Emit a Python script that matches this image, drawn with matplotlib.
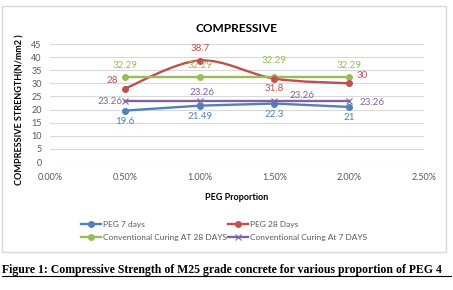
import matplotlib
matplotlib.use("Agg")
import matplotlib.pyplot as plt
from matplotlib.path import Path
from matplotlib.patches import PathPatch, Rectangle
import numpy as np

W, H = 453, 290

# data
peg = [0.005, 0.010, 0.015, 0.020]
peg_7 = [19.6, 21.49, 22.3, 21]
peg_28 = [28, 38.7, 31.8, 30]
conv_28 = [32.29, 32.29, 32.29, 32.29]
conv_7 = [23.26, 23.26, 23.26, 23.26]
x_ticks = [0, 0.005, 0.010, 0.015, 0.020, 0.025]
y_ticks = [0, 5, 10, 15, 20, 25, 30, 35, 40, 45]

blue = "#4F81BD"
red = "#C0504D"
green = "#9BBB59"
purple = "#8064A2"
grey = "#595959"

plt.rcParams['font.family'] = ['Lato', 'DejaVu Sans']

fig = plt.figure(figsize=(W / 100, H / 100), dpi=100)

def px(x0, y0, w, h):  # pixel box (from top-left) -> figure fraction
    return [x0 / W, 1 - (y0 + h) / H, w / W, h / H]

# chart frame
fig.patches.append(Rectangle((2 / W, 1 - 252 / H), 444 / W, 246 / H,
                             transform=fig.transFigure, fill=False,
                             edgecolor="#D9D9D9", linewidth=1))

ax = fig.add_axes(px(50, 44, 374, 118))
ax.set_xlim(0, 0.025)
ax.set_ylim(0, 45)
ax.set_xticks(x_ticks)
ax.set_xticklabels(["%.2f%%" % (v * 100) for v in x_ticks])
ax.set_yticks(y_ticks)
ax.tick_params(length=0, labelsize=6.5, labelcolor=grey, pad=6)
ax.tick_params(axis='x', pad=8)
ax.grid(axis='y', color="#D9D9D9", linewidth=0.8)
ax.set_axisbelow(True)
for s in ax.spines.values():
    s.set_visible(False)

# straight series
h_b, = ax.plot(peg, peg_7, color=blue, lw=1.7, marker='o', ms=4, label="PEG 7 days", zorder=3)

# smoothed red series (Excel-style smoothing through the points)
verts = [(peg[0], peg_28[0])]
codes = [Path.MOVETO]
n = len(peg)
for i in range(n - 1):
    p0 = np.array([peg[max(i - 1, 0)], peg_28[max(i - 1, 0)]])
    p1 = np.array([peg[i], peg_28[i]])
    p2 = np.array([peg[i + 1], peg_28[i + 1]])
    p3 = np.array([peg[min(i + 2, n - 1)], peg_28[min(i + 2, n - 1)]])
    c1 = p1 + (p2 - p0) / 6
    c2 = p2 - (p3 - p1) / 6
    verts += [tuple(c1), tuple(c2), tuple(p2)]
    codes += [Path.CURVE4] * 3
ax.add_patch(PathPatch(Path(verts, codes), fill=False, edgecolor=red, lw=1.7, zorder=3))
ax.plot(peg, peg_28, color=red, lw=0, marker='o', ms=4, zorder=4)
h_r, = ax.plot([], [], color=red, lw=1.7, marker='o', ms=4, label="PEG 28 Days")

h_g, = ax.plot(peg, conv_28, color=green, lw=1.7, marker='o', ms=4,
               label="Conventional Curing AT 28 DAYS", zorder=3)
h_p, = ax.plot(peg, conv_7, color=purple, lw=1.7, marker='x', ms=5, mew=0.8,
               label="Conventional Curing At 7 DAYS", zorder=3)

def lab(x, y, txt, dx, dy, c, ha='center'):
    ax.annotate(txt, (x, y), xytext=(dx, dy), textcoords='offset pixels',
                ha=ha, va='center', fontsize=7, color=c, zorder=5)

for i, v in enumerate(peg_7):
    lab(peg[i], v, "%g" % v, 0, -11, blue)
red_off = [(-13, 8), (1, 12), (0, -10), (13, 8)]
for i, v in enumerate(peg_28):
    lab(peg[i], v, "%g" % v, red_off[i][0], red_off[i][1], red)
green_off = [12, 12, 17, 12]
for i, v in enumerate(conv_28):
    lab(peg[i], v, "%g" % v, 0, green_off[i], green)
purple_off = [(-15, 0), (2, 9), (28, 6), (23, -1)]
for i, v in enumerate(conv_7):
    lab(peg[i], v, "%g" % v, purple_off[i][0], purple_off[i][1], purple)

ax.set_title("COMPRESSIVE", fontsize=8.5, fontweight='bold', pad=9)
ax.set_xlabel("PEG Proportion", fontsize=6.5, fontweight='bold', labelpad=8)
fig.text(20 / W, 1 - 110 / H, "COMPRESSIVE STRENGTH(N/mm2 )", rotation=90,
         fontsize=6.5, fontweight='bold', ha='center', va='center')

# legend filled column-wise, so order handles to read row-wise
fig.legend([h_b, h_g, h_r, h_p], [h.get_label() for h in (h_b, h_g, h_r, h_p)],
           loc='center', bbox_to_anchor=(224 / W, 1 - 231 / H), ncol=2,
           frameon=False, fontsize=6.0, labelcolor=grey, columnspacing=0.2,
           handlelength=2.4, handletextpad=0.2, labelspacing=0.75)

# caption under the chart
fig.text(2 / W, 1 - 273 / H,
         "Figure 1: Compressive Strength of M25 grade concrete for various proportion of PEG 4",
         family=['Liberation Serif', 'DejaVu Serif'], fontweight='bold',
         fontsize=8.45, ha='left', va='baseline')
fig.add_artist(plt.Line2D([2 / W, 451 / W], [1 - 276 / H] * 2, color='black', lw=0.8))

fig.savefig("out.png", dpi=100)
